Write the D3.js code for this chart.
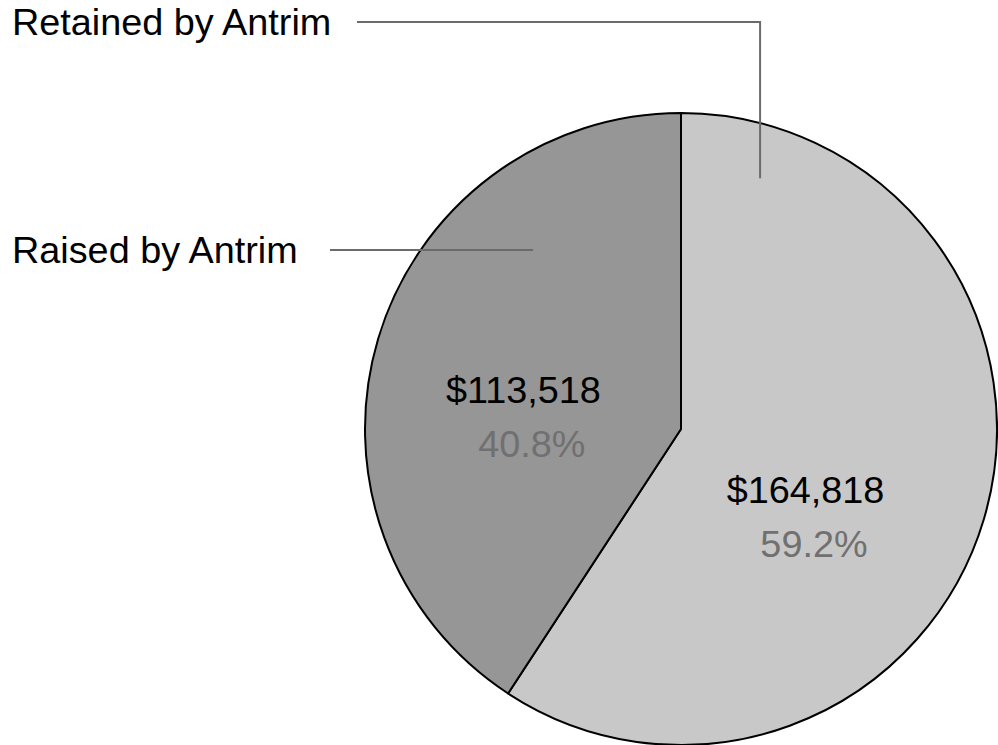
<!DOCTYPE html>
<html>
<head>
<meta charset="utf-8">
<script src="https://cdn.jsdelivr.net/npm/d3@7"></script>
<style>
  body { margin: 0; background: #fff; }
  svg { display: block; font-family: "Liberation Sans", Arial, sans-serif; }
</style>
</head>
<body>
<svg id="chart" width="998" height="745"></svg>
<script>
// data
const categories = ["Retained by Antrim", "Raised by Antrim"];
const amounts = [164818, 113518];
const sliceColors = ["#c8c8c8", "#969696"];

const svg = d3.select("#chart");
const cx = 681, cy = 429, radius = 316;
const stretch = 1.05; // the original text is a touch wider than Liberation Sans

const total = d3.sum(amounts);
const slices = categories.map((name, i) => ({ name, value: amounts[i], color: sliceColors[i] }));

const pie = d3.pie().value(d => d.value).sort(null);
const arcs = pie(slices);

const arc = d3.arc().innerRadius(0).outerRadius(radius);
const labelArc = d3.arc().innerRadius(155).outerRadius(155);

const g = svg.append("g").attr("transform", `translate(${cx},${cy})`);

g.selectAll("path.slice")
  .data(arcs)
  .enter()
  .append("path")
  .attr("class", "slice")
  .attr("d", arc)
  .attr("fill", d => d.data.color)
  .attr("stroke", "#000")
  .attr("stroke-width", 2)
  .attr("stroke-linejoin", "round");

// label nudges, tuned by eye
const labelNudge = { "Retained by Antrim": [-24, 44], "Raised by Antrim": [-9, 32] };
const money = d3.format("$,");
const pct = d3.format(".1%");

const labels = g.selectAll("g.label")
  .data(arcs)
  .enter()
  .append("g")
  .attr("class", "label")
  .attr("transform", d => {
    const [x, y] = labelArc.centroid(d);
    const n = labelNudge[d.data.name];
    return `translate(${x + n[0]},${y + n[1]}) scale(${stretch},1)`;
  });

labels.append("text")
  .attr("text-anchor", "middle")
  .attr("y", -14)
  .attr("font-size", 36)
  .attr("fill", "#000")
  .text(d => money(d.data.value));

labels.append("text")
  .attr("text-anchor", "middle")
  .attr("x", 8)
  .attr("y", 40)
  .attr("font-size", 36)
  .attr("fill", "#707070")
  .text(d => pct(d.data.value / total));

// outside category labels with leader lines
const leaders = [
  { name: categories[0], textY: 22, lineStart: 357, anchor: d3.pointRadial(17.5 * Math.PI / 180, 263) },
  { name: categories[1], textY: 250, lineStart: 330, anchor: d3.pointRadial(320.4 * Math.PI / 180, 232) }
];

leaders.forEach(l => {
  const ax = cx + l.anchor[0], ay = cy + l.anchor[1];
  svg.append("path")
    .attr("d", ay > l.textY + 1
      ? `M${l.lineStart},${l.textY}H${ax}V${ay}`
      : `M${l.lineStart},${l.textY}H${ax}`)
    .attr("fill", "none")
    .attr("stroke", "#6b6b6b")
    .attr("stroke-width", 2);
  svg.append("text")
    .attr("transform", `translate(12,${l.textY}) scale(${stretch},1)`)
    .attr("dy", "0.35em")
    .attr("font-size", 36)
    .attr("fill", "#000")
    .text(l.name);
});
</script>
</body>
</html>
